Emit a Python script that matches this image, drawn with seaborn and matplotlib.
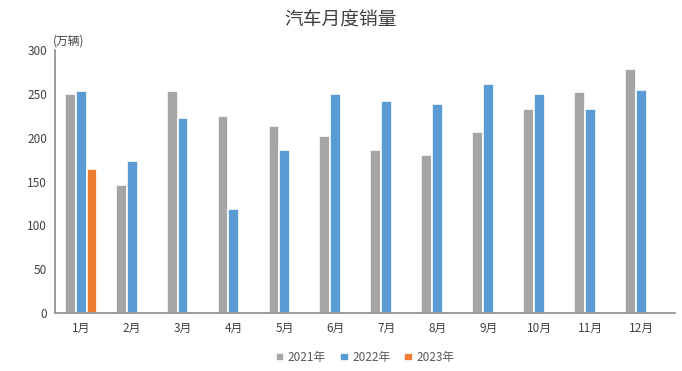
import matplotlib
matplotlib.use("Agg")
import matplotlib.pyplot as plt
import seaborn as sns
import pandas as pd
import numpy as np

months = ["1月", "2月", "3月", "4月", "5月", "6月", "7月", "8月", "9月", "10月", "11月", "12月"]
sales_2021 = [250, 146, 253, 225, 213, 202, 186, 180, 207, 233, 252, 278]
sales_2022 = [253, 173, 223, 119, 186, 250, 242, 238, 261, 250, 233, 255]
sales_2023 = [164, np.nan, np.nan, np.nan, np.nan, np.nan, np.nan, np.nan, np.nan, np.nan, np.nan, np.nan]
years = ["2021年", "2022年", "2023年"]
colors = ["#A5A5A5", "#5B9BD5", "#ED7D31"]

rows = []
for y, vals in zip(years, [sales_2021, sales_2022, sales_2023]):
    for m, v in zip(months, vals):
        rows.append({"月份": m, "年份": y, "销量": v})
df = pd.DataFrame(rows)

sns.set_style("white")
plt.rcParams['font.family'] = ['Noto Sans CJK SC', 'DejaVu Sans']

fig = plt.figure(figsize=(6.82, 3.71), dpi=100)
ax = fig.add_axes([0.081, 0.156, 0.909, 0.709])

sns.barplot(data=df, x="月份", y="销量", hue="年份", order=months, hue_order=years,
            palette=colors, width=0.64, edgecolor="white", linewidth=1.2,
            errorbar=None, ax=ax, saturation=1)

ax.set_ylim(0, 300)
ax.set_xlim(-0.51, 11.67)
ax.set_yticks(range(0, 301, 50))
ax.set_xlabel("")
ax.set_ylabel("")
ax.tick_params(axis="both", length=0, labelsize=8.5, colors="#404040", pad=6)
for s in ["top", "right"]:
    ax.spines[s].set_visible(False)
for s in ["left", "bottom"]:
    ax.spines[s].set_color("#8C8C8C")
    ax.spines[s].set_linewidth(1.2)

fig.text(0.5, 0.945, "汽车月度销量", ha="center", va="center", fontsize=13.5, color="#404040")
fig.text(0.077, 0.89, "(万辆)", ha="left", va="center", fontsize=8.5, color="#404040")

leg = ax.legend(loc="upper center", bbox_to_anchor=(0.5, -0.105), ncol=3, frameon=False,
                fontsize=8.5, handlelength=0.7, handleheight=0.7, handletextpad=0.3,
                columnspacing=1.2)
for t in leg.get_texts():
    t.set_color("#595959")

fig.savefig("out.png", dpi=100)
